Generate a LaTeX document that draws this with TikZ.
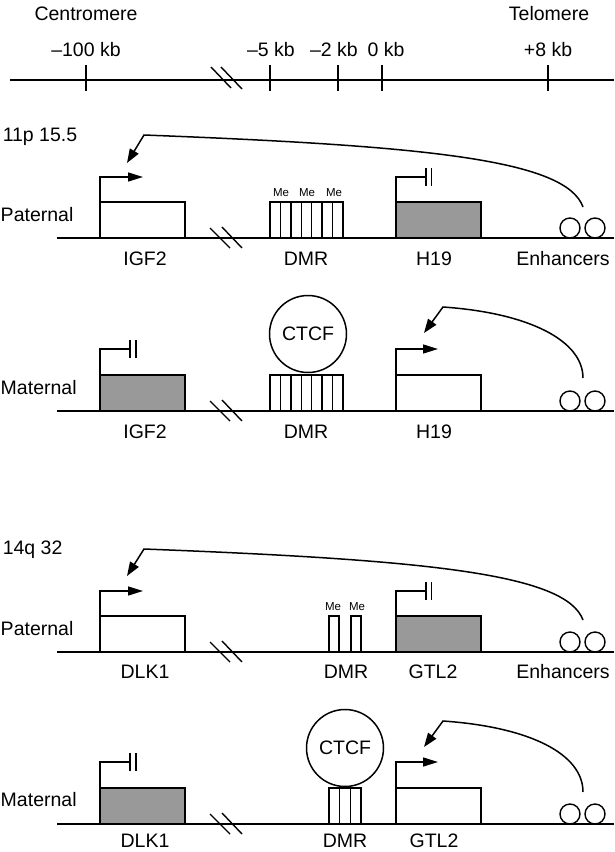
\documentclass[tikz,border=0pt]{standalone}
\usepackage{fontspec}
\setmainfont{Liberation Sans}
\usetikzlibrary{arrows.meta}
\begin{document}
\begin{tikzpicture}[x=1pt,y=-1pt,
  line width=1.5pt,
  lbl/.style={font=\fontsize{19.5}{22}\selectfont, inner sep=0pt},
  melbl/.style={font=\fontsize{11.5}{13}\selectfont, inner sep=0pt},
  genebox/.style={draw, rectangle, line width=1.5pt, inner sep=0pt, outer sep=0pt, minimum width=85pt, minimum height=36pt, anchor=south west},
  silent/.style={genebox, fill=black!40},
  active/.style={genebox, fill=white},
  cell/.style={draw, rectangle, line width=1.5pt, inner sep=0pt, outer sep=0pt, minimum height=36pt, anchor=south west},
  enh/.style={draw, circle, line width=1.4pt, inner sep=0pt, outer sep=0pt, minimum size=20pt, anchor=south},
  ctcf/.style={draw, circle, line width=1.5pt, inner sep=0pt, outer sep=0pt, minimum size=77pt, font=\fontsize{19.5}{22}\selectfont, fill=white},
  parr/.style={-{Triangle[length=15pt,width=9pt]}},
  larr/.style={-{Triangle[length=14pt,width=10pt]}},
  chrom/.style={line width=1.7pt},
  brk/.style={line width=1.4pt},
]
\useasboundingbox (0,0) rectangle (614,852);

% ---------- top axis ----------
\node[lbl] (cen) at (86,14) {Centromere};
\node[lbl] (tel) at (549,14) {Telomere};
\coordinate (axL) at (10,80);
\coordinate (axR) at (614,80);
\draw[chrom] (axL) -- (axR);
\node[lbl] (k1) at (86,50) {–100 kb};
\node[lbl] (k2) at (271,50) {–5 kb};
\node[lbl] (k3) at (334,50) {–2 kb};
\node[lbl] (k4) at (386,50) {0 kb};
\node[lbl] (k5) at (548,50) {+8 kb};
\foreach \x in {86,270,338,382,548} \draw (\x,65) -- (\x,91);
\draw[brk] (211,67) -- (231,88) (221,67) -- (242,89);

% ---------- panel 1: 11p15.5 paternal ----------
\begin{scope}[shift={(0,238)}]
\node[lbl, anchor=base west] (chrA) at (2,-97) {11p 15.5};
\node[lbl, anchor=west] (patA) at (0,-23) {Paternal};
\coordinate (lA) at (57,0);
\coordinate (rA) at (614,0);
\draw[chrom] (lA) -- (rA);
\node[active] (igfA) at (100,0) {};
\draw[parr] (igfA.north west) -- ++(0,-25) -- ++(43,0);
\draw[brk] (210,-10) -- (230,10) (222,-11) -- (242,10);
\foreach \i in {0,...,6} \node[cell, minimum width=10.43pt] (dmrA\i) at ({270+10.43*\i},0) {};
\node[melbl] (meA1) at (281,-45) {Me};
\node[melbl] (meA2) at (307,-45) {Me};
\node[melbl] (meA3) at (334,-45) {Me};
\node[silent] (h19A) at (396,0) {};
\draw (h19A.north west) -- ++(0,-25) -- ++(30,0) coordinate (blkA);
\draw (blkA) ++(0,-9) -- ++(0,18);
\draw (blkA) ++(5.5,-9) -- ++(0,18);
\node[enh] (e1A) at (570,0) {};
\node[enh] (e2A) at (595,0) {};
\coordinate (srcA) at (583,-31);
\coordinate (cornA) at (144,-103);
\coordinate (tipA) at (127,-75);
\draw[larr] (srcA) .. controls (566,-78) and (430,-92) .. (cornA) -- (tipA);
\node[lbl] (tA1) at (145,21) {IGF2};
\node[lbl] (tA2) at (306,21) {DMR};
\node[lbl] (tA3) at (434,21) {H19};
\node[lbl] (tA4) at (563,21) {Enhancers};
\end{scope}

% ---------- panel 2: 11p15.5 maternal ----------
\begin{scope}[shift={(0,411)}]
\node[lbl, anchor=west] (matB) at (0,-23) {Maternal};
\coordinate (lB) at (57,0);
\coordinate (rB) at (614,0);
\draw[chrom] (lB) -- (rB);
\node[silent] (igfB) at (100,0) {};
\draw (igfB.north west) -- ++(0,-26) -- ++(30,0) coordinate (blkB);
\draw (blkB) ++(0,-9) -- ++(0,18);
\draw (blkB) ++(6,-9) -- ++(0,18);
\draw[brk] (210,-10) -- (230,10) (222,-11) -- (242,10);
\foreach \i in {0,...,6} \node[cell, minimum width=10.43pt] (dmrB\i) at ({270+10.43*\i},0) {};
\node[ctcf] (ctcfB) at (308,-77) {CTCF};
\node[active] (h19B) at (396,0) {};
\draw[parr] (h19B.north west) -- ++(0,-26) -- ++(42,0);
\node[enh] (e1B) at (570,0) {};
\node[enh] (e2B) at (595,0) {};
\coordinate (srcB) at (583,-33);
\coordinate (cornB) at (443,-104);
\coordinate (tipB) at (424,-78);
\draw[larr] (srcB) .. controls (583,-70) and (530,-98) .. (cornB) -- (tipB);
\node[lbl] (tB1) at (145,21) {IGF2};
\node[lbl] (tB2) at (306,21) {DMR};
\node[lbl] (tB3) at (434,21) {H19};
\end{scope}

% ---------- panel 3: 14q32 paternal ----------
\begin{scope}[shift={(0,652)}]
\node[lbl, anchor=base west] (chrC) at (2,-98) {14q 32};
\node[lbl, anchor=west] (patC) at (0,-23) {Paternal};
\coordinate (lC) at (57,0);
\coordinate (rC) at (614,0);
\draw[chrom] (lC) -- (rC);
\node[active] (dlkC) at (100,0) {};
\draw[parr] (dlkC.north west) -- ++(0,-25) -- ++(43,0);
\draw[brk] (210,-10) -- (230,10) (222,-11) -- (242,10);
\node[cell, minimum width=10pt] (dmrC1) at (329,0) {};
\node[cell, minimum width=10pt] (dmrC2) at (351,0) {};
\node[melbl] (meC1) at (333,-45) {Me};
\node[melbl] (meC2) at (357,-45) {Me};
\node[silent] (gtlC) at (396,0) {};
\draw (gtlC.north west) -- ++(0,-25) -- ++(30,0) coordinate (blkC);
\draw (blkC) ++(0,-9) -- ++(0,18);
\draw (blkC) ++(5.5,-9) -- ++(0,18);
\node[enh] (e1C) at (570,0) {};
\node[enh] (e2C) at (595,0) {};
\coordinate (srcC) at (583,-32);
\coordinate (cornC) at (144,-103);
\coordinate (tipC) at (127,-76);
\draw[larr] (srcC) .. controls (566,-78) and (430,-92) .. (cornC) -- (tipC);
\node[lbl] (tC1) at (145,20) {DLK1};
\node[lbl] (tC2) at (346,20) {DMR};
\node[lbl] (tC3) at (433,20) {GTL2};
\node[lbl] (tC4) at (563,20) {Enhancers};
\end{scope}

% ---------- panel 4: 14q32 maternal ----------
\begin{scope}[shift={(0,824)}]
\node[lbl, anchor=west] (matD) at (0,-24) {Maternal};
\coordinate (lD) at (57,0);
\coordinate (rD) at (614,0);
\draw[chrom] (lD) -- (rD);
\node[silent] (dlkD) at (100,0) {};
\draw (dlkD.north west) -- ++(0,-26) -- ++(30,0) coordinate (blkD);
\draw (blkD) ++(0,-9) -- ++(0,18);
\draw (blkD) ++(6,-9) -- ++(0,18);
\draw[brk] (210,-10) -- (230,10) (222,-11) -- (242,10);
\foreach \i in {0,...,2} \node[cell, minimum width=10.67pt] (dmrD\i) at ({329+10.67*\i},0) {};
\node[ctcf] (ctcfD) at (345,-76) {CTCF};
\node[active] (gtlD) at (396,0) {};
\draw[parr] (gtlD.north west) -- ++(0,-26) -- ++(42,0);
\node[enh] (e1D) at (570,0) {};
\node[enh] (e2D) at (595,0) {};
\coordinate (srcD) at (583,-32);
\coordinate (cornD) at (443,-103);
\coordinate (tipD) at (424,-77);
\draw[larr] (srcD) .. controls (583,-70) and (530,-97) .. (cornD) -- (tipD);
\node[lbl] (tD1) at (145,17) {DLK1};
\node[lbl] (tD2) at (345,17) {DMR};
\node[lbl] (tD3) at (434,17) {GTL2};
\end{scope}
\end{tikzpicture}
\end{document}
